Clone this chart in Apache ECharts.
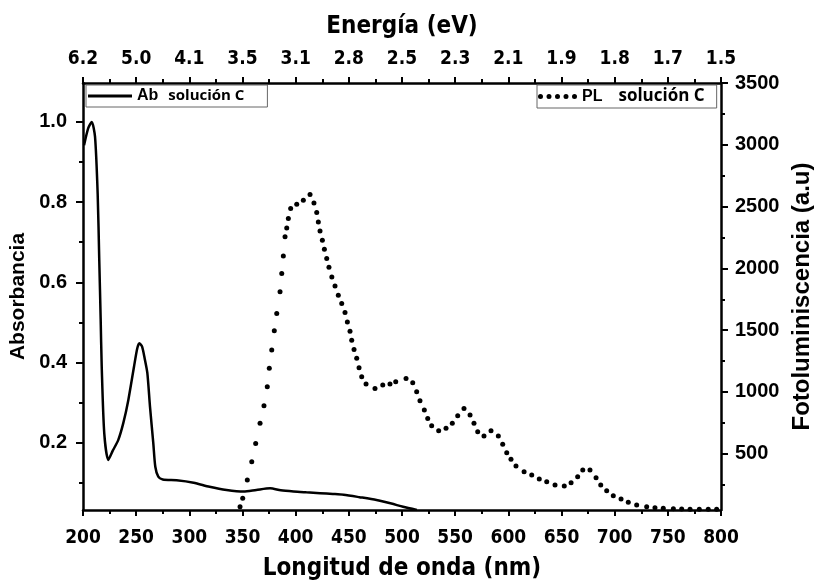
<!DOCTYPE html>
<html>
<head>
<meta charset="utf-8">
<script src="https://cdn.jsdelivr.net/npm/echarts@6.0.0/dist/echarts.min.js"></script>
<style>
  html, body { margin: 0; padding: 0; background: #fff; }
  #chart { width: 814px; height: 582px; }
</style>
</head>
<body>
<div id="chart"></div>
<script>
// Absorbancia (linea continua, eje izquierdo)
const abWl = [201, 205, 208.2, 211.3, 213.8, 215.3, 216.6, 217.6, 220, 223.8, 228, 233.2, 238, 242.6, 248, 251, 253, 255.5, 258, 260.5, 263, 266.1, 268, 270.8, 275, 288, 304, 319, 335, 351, 363, 376, 386, 398, 410, 423, 435, 445, 460, 476, 490, 501, 514];
const abVal = [0.942, 0.985, 1.0, 0.963, 0.82, 0.655, 0.51, 0.39, 0.223, 0.157, 0.18, 0.207, 0.25, 0.306, 0.39, 0.435, 0.448, 0.44, 0.41, 0.374, 0.29, 0.199, 0.14, 0.115, 0.108, 0.106, 0.100, 0.090, 0.082, 0.078, 0.082, 0.086, 0.081, 0.078, 0.076, 0.074, 0.072, 0.070, 0.064, 0.057, 0.048, 0.040, 0.032];

// Fotoluminiscencia (puntos, eje derecho)
const plWl = [347.7, 350.2, 354.5, 358.7, 362.4, 366.5, 370.2, 373.3, 375.2, 377.5, 379.9, 382.2, 385.3, 386.9, 388.4, 390.0, 391.6, 393.1, 395.3, 401.0, 407.2, 413.5, 417.2, 419.8, 421.3, 422.9, 425.1, 427.0, 429.2, 431.3, 434.0, 437.0, 440.1, 443.3, 446.4, 448.6, 451.1, 452.7, 454.9, 457.4, 459.6, 462.1, 466.2, 474.6, 481.9, 488.7, 494.1, 503.8, 510.1, 513.8, 516.9, 521.0, 524.2, 527.9, 534.5, 541.4, 547.3, 552.4, 558.3, 564.0, 567.7, 571.2, 577.1, 583.7, 590.6, 594.7, 598.5, 602.5, 607.2, 614.8, 622.0, 629.1, 636.1, 643.9, 652.6, 659.0, 665.2, 670.0, 676.8, 682.5, 686.9, 692.5, 698.7, 706.0, 712.8, 720.7, 730.1, 737.9, 745.7, 755.2, 763.0, 770.9, 779.6, 788.0, 795.9];
const plVal = [72, 140, 288, 436, 584, 746, 888, 1042, 1191, 1339, 1495, 1635, 1810, 1959, 2101, 2255, 2327, 2403, 2484, 2519, 2551, 2597, 2529, 2452, 2376, 2303, 2228, 2155, 2080, 2010, 1931, 1858, 1783, 1716, 1643, 1567, 1492, 1419, 1344, 1272, 1196, 1123, 1064, 1029, 1056, 1064, 1082, 1110, 1074, 1001, 929, 854, 786, 727, 686, 706, 746, 807, 867, 813, 746, 678, 643, 686, 643, 576, 508, 455, 401, 355, 328, 296, 274, 247, 239, 266, 314, 368, 368, 306, 247, 201, 161, 134, 107, 85, 72, 64, 59, 56, 53, 51, 51, 51, 51];

// etiquetas de ejes
const energyLabels = ['6.2', '5.0', '4.1', '3.5', '3.1', '2.8', '2.5', '2.3', '2.1', '1.9', '1.8', '1.7', '1.5'];
const abTicks = [0.2, 0.4, 0.6, 0.8, 1.0];
const abMinorTicks = [0.1, 0.3, 0.5, 0.7, 0.9];
const plTicks = [500, 1000, 1500, 2000, 2500, 3000, 3500];
const plMinorTicks = [250, 750, 1250, 1750, 2250, 2750, 3250];

const narrow = "'DejaVu Sans Condensed', sans-serif";
const arial = "'Liberation Sans', Arial, sans-serif";
const axisLine = { show: true, onZero: false, lineStyle: { color: '#000', width: 2.5 } };

const option = {
    animation: false,
    backgroundColor: '#fff',
    grid: { left: 83, right: 93, top: 83, bottom: 72, outerBoundsMode: 'none' },
    legend: [{
        data: ['Ab'],
        left: 86, top: 85,
        padding: [3, 23, 3, 2],
        borderColor: '#666', borderWidth: 1,
        itemWidth: 44, itemHeight: 3,
        icon: 'rect',
        formatter: () => '{a|Ab}{b|solución C}',
        textStyle: {
            rich: {
                a: { fontFamily: arial, fontWeight: 'bold', fontSize: 16, lineHeight: 18, color: '#000' },
                b: { fontFamily: "'Open Sans', sans-serif", fontWeight: 'bold', fontSize: 15, lineHeight: 18, padding: [0, 0, 0, 10], color: '#000' }
            }
        }
    }, {
        data: ['PL'],
        left: 537, top: 85,
        padding: [3, 12, 3, 1],
        borderColor: '#666', borderWidth: 1,
        itemWidth: 39, itemHeight: 5,
        icon: 'path://M2.5,0a2.5,2.5 0 1,1 0,5a2.5,2.5 0 1,1 0,-5zM11,0a2.5,2.5 0 1,1 0,5a2.5,2.5 0 1,1 0,-5zM19.5,0a2.5,2.5 0 1,1 0,5a2.5,2.5 0 1,1 0,-5zM28,0a2.5,2.5 0 1,1 0,5a2.5,2.5 0 1,1 0,-5zM36.5,0a2.5,2.5 0 1,1 0,5a2.5,2.5 0 1,1 0,-5z',
        formatter: () => '{a|PL}{b|solución C}',
        textStyle: {
            rich: {
                a: { fontFamily: arial, fontWeight: 'bold', fontSize: 16, lineHeight: 18, color: '#000' },
                b: { fontFamily: "'Open Sans', sans-serif", fontWeight: 'bold', fontSize: 17, lineHeight: 18, padding: [0, 0, 0, 16], color: '#000' }
            }
        }
    }],
    xAxis: [{
        type: 'value', position: 'bottom',
        min: 200, max: 800, interval: 50,
        name: 'Longitud de onda (nm)', nameLocation: 'middle', nameGap: 47,
        nameTextStyle: { fontFamily: narrow, fontWeight: 'bold', fontSize: 24, color: '#000' },
        axisLine: axisLine,
        axisTick: { show: true, inside: false, length: 6, lineStyle: { width: 2, color: '#000' } },
        minorTick: { show: true, splitNumber: 2, length: 4, lineStyle: { width: 2, color: '#000' } },
        axisLabel: { margin: 19, fontFamily: narrow, fontWeight: 'bold', fontSize: 19, color: '#000' },
        splitLine: { show: false }
    }, {
        type: 'value', position: 'top',
        min: 200, max: 800, interval: 50,
        name: 'Energía (eV)', nameLocation: 'middle', nameGap: 44,
        nameTextStyle: { fontFamily: narrow, fontWeight: 'bold', fontSize: 24, color: '#000' },
        axisLine: axisLine,
        axisTick: { show: true, inside: false, length: 6, lineStyle: { width: 2, color: '#000' } },
        minorTick: { show: true, splitNumber: 2, length: 4, lineStyle: { width: 2, color: '#000' } },
        axisLabel: {
            margin: 14, fontFamily: narrow, fontWeight: 'bold', fontSize: 19, color: '#000',
            formatter: v => energyLabels[Math.round((v - 200) / 50)]
        },
        splitLine: { show: false }
    }],
    yAxis: [{
        type: 'value', position: 'left',
        min: 0.032, max: 1.097,
        name: 'Absorbancia', nameLocation: 'middle', nameGap: 51, nameRotate: 90,
        nameTextStyle: { fontFamily: arial, fontWeight: 'bold', fontSize: 21, color: '#000' },
        axisLine: axisLine,
        axisTick: { show: true, length: 7, customValues: abTicks, lineStyle: { width: 2, color: '#000' } },
        axisLabel: {
            margin: 16, fontFamily: arial, fontWeight: 'bold', fontSize: 20, color: '#000',
            customValues: abTicks, formatter: v => v.toFixed(1)
        },
        splitLine: { show: false }
    }, {
        type: 'value', position: 'right',
        min: 45, max: 3500,
        name: 'Fotoluminiscencia (a.u)', nameLocation: 'middle', nameGap: 69, nameRotate: 90,
        nameTextStyle: { fontFamily: arial, fontWeight: 'bold', fontSize: 24, color: '#000' },
        axisLine: axisLine,
        axisTick: { show: true, length: 7, customValues: plTicks, lineStyle: { width: 2, color: '#000' } },
        axisLabel: {
            margin: 14, fontFamily: arial, fontWeight: 'bold', fontSize: 20, color: '#000',
            customValues: plTicks, formatter: v => String(v)
        },
        splitLine: { show: false }
    }, {
        // ticks menores izquierda
        type: 'value', position: 'left',
        min: 0.032, max: 1.097,
        axisLine: { show: false, onZero: false },
        axisTick: { show: true, length: 4, customValues: abMinorTicks, lineStyle: { width: 2, color: '#000' } },
        axisLabel: { show: false },
        splitLine: { show: false }
    }, {
        // ticks menores derecha
        type: 'value', position: 'right',
        min: 45, max: 3500,
        axisLine: { show: false, onZero: false },
        axisTick: { show: true, length: 4, customValues: plMinorTicks, lineStyle: { width: 2, color: '#000' } },
        axisLabel: { show: false },
        splitLine: { show: false }
    }],
    series: [{
        name: 'Ab',
        type: 'line',
        xAxisIndex: 0, yAxisIndex: 0,
        data: abWl.map((w, i) => [w, abVal[i]]),
        symbol: 'none',
        smooth: 0.25,
        itemStyle: { color: '#000' },
        lineStyle: { color: '#000', width: 2.5 }
    }, {
        name: 'PL',
        type: 'line',
        xAxisIndex: 0, yAxisIndex: 1,
        data: plWl.map((w, i) => [w, plVal[i]]),
        symbol: 'circle',
        symbolSize: 5,
        showSymbol: true,
        showAllSymbol: true,
        itemStyle: { color: '#000' },
        lineStyle: { width: 0, opacity: 0 }
    }]
};

const myChart = echarts.init(document.getElementById('chart'));
myChart.setOption(option);
</script>
</body>
</html>
